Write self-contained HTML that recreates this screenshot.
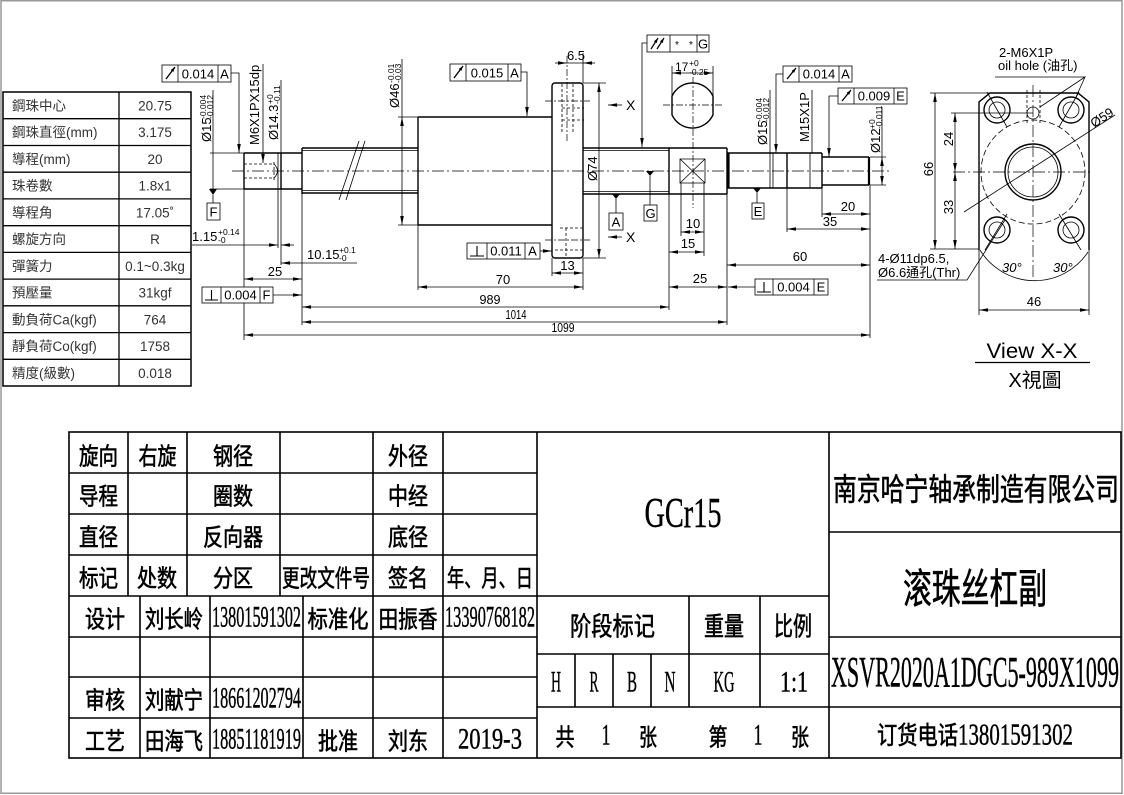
<!DOCTYPE html>
<html><head><meta charset="utf-8"><style>
html,body{margin:0;padding:0;background:#fff;}
svg{display:block;}
.t{stroke:#000;stroke-width:.8;fill:none}
.k{stroke:#000;stroke-width:1.4;fill:none}
.c{stroke:#000;stroke-width:.7;stroke-dasharray:12 3 2 3;fill:none}
.c2{stroke:#000;stroke-width:.7;stroke-dasharray:7 2 2 2;fill:none}
.d{stroke:#000;stroke-width:.8;stroke-dasharray:3 2;fill:none}
.f{font-family:"Liberation Sans","Noto Sans CJK TC",sans-serif;font-size:13px;fill:#000}
.sm{font-size:8.5px}
.lt{font-family:"Liberation Sans","Noto Sans CJK TC",sans-serif;font-size:13.5px;fill:#333}
.cj{font-family:"Noto Sans CJK SC",sans-serif;fill:#000;font-weight:400;stroke:#000;stroke-width:.6}
.nm{font-family:"Liberation Serif",serif;fill:#000;stroke:#000;stroke-width:.45}
</style></head><body>
<svg width="1124" height="795" viewBox="0 0 1124 795" xmlns="http://www.w3.org/2000/svg">
<defs>
<marker id="a" viewBox="0 0 10 4" refX="10" refY="2" markerWidth="9" markerHeight="3.6" markerUnits="userSpaceOnUse" orient="auto-start-reverse"><path d="M0,0L10,2L0,4z" fill="#000"/></marker>
<marker id="b" viewBox="0 0 6 4" refX="6" refY="2" markerWidth="5" markerHeight="3.4" markerUnits="userSpaceOnUse" orient="auto"><path d="M0,0L6,2L0,4z" fill="#000"/></marker>
</defs>

<rect x="1" y="0.75" width="1121" height="792.5" fill="none" stroke="#999" stroke-width="1.5"/>

<!-- LEFT TABLE -->
<rect x="3" y="92" width="188" height="294" fill="none" stroke="#000" stroke-width="1.5"/>
<path stroke="#000" stroke-width="1.3" fill="none" d="M119,92V386M3,118.7H191M3,145.5H191M3,172.2H191M3,198.9H191M3,225.7H191M3,252.4H191M3,279.1H191M3,305.8H191M3,332.6H191M3,359.3H191"/>
<g class="lt">
<text x="12" y="110.5">鋼珠中心</text>
<text x="12" y="137.2">鋼珠直徑(mm)</text>
<text x="12" y="164">導程(mm)</text>
<text x="12" y="190.7">珠卷數</text>
<text x="12" y="217.4">導程角</text>
<text x="12" y="244.2">螺旋方向</text>
<text x="12" y="270.9">彈簧力</text>
<text x="12" y="297.6">預壓量</text>
<text x="12" y="324.3">動負荷Ca(kgf)</text>
<text x="12" y="351.1">靜負荷Co(kgf)</text>
<text x="12" y="377.8">精度(級數)</text>
</g>
<g class="lt" text-anchor="middle">
<text x="155" y="110.5">20.75</text>
<text x="155" y="137.2">3.175</text>
<text x="155" y="164">20</text>
<text x="155" y="190.7">1.8x1</text>
<text x="155" y="217.4">17.05˚</text>
<text x="155" y="244.2">R</text>
<text x="155" y="270.9">0.1~0.3kg</text>
<text x="155" y="297.6">31kgf</text>
<text x="155" y="324.3">764</text>
<text x="155" y="351.1">1758</text>
<text x="155" y="377.8">0.018</text>
</g>

<!-- MAIN SHAFT -->
<line x1="232" y1="171" x2="890" y2="171" class="c"/>
<path class="k" d="M244,153V189M244,153H302M244,189H302M281,153V189M302,148V194M302,148H418M302,193H418"/>
<path class="t" d="M278,153V189M302,150.5H418M302,190.5H418M210,153H244M210,189H244"/>
<path class="d" d="M244,164H274M244,178H274M274,162V180"/>
<path class="t" d="M274,164Q281,171 274,178"/>
<path class="t" d="M359,141L339,200M365,141L346,200"/>

<!-- nut -->
<path class="k" d="M418,117V225M418,117H552M418,225H552"/>
<rect x="552" y="83" width="31" height="175" rx="3" class="k"/>
<path class="d" d="M562,84V132M573,84V132M562,108H584M562,120H584M560,228H583M555,250H583M566,228V257"/>
<path class="c2" d="M567,56V142M545,101H590M545,240H590"/>

<!-- right body -->
<path class="k" d="M583,148H727M583,194H727M669,148V194M727,148V194M727,153H822M727,188H822M787,153V188M822,153V188M822,157H869M822,185H869"/>
<path class="t" d="M583,150.5H669M583,191.5H669M770,153V188M773,153V188M810,153V188"/>
<path stroke="#000" stroke-width="2.2" fill="none" d="M869,157V185M728.5,153V188"/>
<path class="t" d="M680,159H705V183H680ZM680,159L705,183M705,159L680,183"/>

<!-- section circle 17 -->
<path class="k" d="M672,96.2A22.5,22.5 0 0 1 713,96.2V114.8A22.5,22.5 0 0 1 672,114.8Z"/>
<path class="c2" d="M693,77V208M663,105H723"/>
<path class="t" d="M672,66V98M713,66V98"/>
<line class="t" x1="672" y1="73" x2="713" y2="73" marker-start="url(#a)" marker-end="url(#a)"/>
<text class="f" x="675" y="71" style="font-size:12px">17</text>
<text class="f sm" x="689" y="66">+0</text>
<text class="f sm" x="689" y="75">-0.25</text>

<!-- Ø46 -->
<path class="t" d="M398,117H418M398,225H418M402,59V117"/>
<line class="t" x1="402" y1="117" x2="402" y2="225" marker-start="url(#a)" marker-end="url(#a)"/>
<g transform="translate(399,108) rotate(-90)"><text class="f">Ø46</text><text class="f sm" x="25" y="-5">-0.01</text><text class="f sm" x="25" y="2">-0.03</text></g>

<!-- left Ø15 + datum F -->
<line class="t" x1="213" y1="90" x2="213" y2="189"/>
<polygon points="209,189 217,189 213,195" fill="#000"/>
<path class="t" d="M213,195V203"/>
<rect class="t" x="207" y="203" width="13" height="17"/>
<text class="f" x="213.5" y="216.5" text-anchor="middle">F</text>
<g transform="translate(211,142) rotate(-90)"><text class="f">Ø15</text><text class="f sm" x="23" y="-5">-0.004</text><text class="f sm" x="23" y="2">-0.012</text></g>

<!-- F1 -->
<rect class="t" x="162" y="65" width="69" height="17"/><path class="t" d="M178,65V82M218,65V82"/>
<line x1="166" y1="79" x2="175" y2="67" stroke="#000" stroke-width="1.3" marker-end="url(#b)"/>
<text class="f" x="198" y="78.5" text-anchor="middle">0.014</text><text class="f" x="224.5" y="78.5" text-anchor="middle">A</text>
<path class="t" d="M231,73H239V153" marker-end="url(#a)"/>

<!-- M6 -->
<g transform="translate(259,145) rotate(-90)"><text class="f">M6X1PX15dp</text></g>
<line class="t" x1="263" y1="64" x2="263" y2="163" marker-end="url(#a)"/>

<!-- Ø14.3 -->
<g transform="translate(278,140) rotate(-90)"><text class="f">Ø14.3</text><text class="f sm" x="36" y="-5">+0</text><text class="f sm" x="36" y="2">-0.11</text></g>
<path class="t" d="M281,80V265M278,189V248"/>

<!-- 1.15 -->
<line class="t" x1="192" y1="245" x2="278" y2="245" marker-end="url(#a)"/>
<line class="t" x1="294" y1="245" x2="281" y2="245" marker-end="url(#a)"/>
<text class="f" x="192" y="241">1.15</text><text class="f sm" x="218" y="235">+0.14</text><text class="f sm" x="218" y="243">-0</text>

<!-- 10.15 -->
<path class="t" d="M281,263H357" marker-start="url(#a)"/>
<text class="f" x="307" y="259">10.15</text><text class="f sm" x="339" y="253">+0.1</text><text class="f sm" x="339" y="261">-0</text>

<!-- 25 left -->
<line class="t" x1="244" y1="279" x2="302" y2="279" marker-start="url(#a)" marker-end="url(#a)"/>
<text class="f" x="275" y="276" text-anchor="middle">25</text>

<!-- F6 -->
<rect class="t" x="202" y="287" width="71" height="16" fill="#fff"/><path class="t" d="M221,287V303M260,287V303"/>
<path stroke="#000" stroke-width="1.1" fill="none" d="M211.5,290V300M205,300H218"/>
<text class="f" x="240.5" y="299.5" text-anchor="middle">0.004</text><text class="f" x="266.5" y="299.5" text-anchor="middle">F</text>
<line class="t" x1="273" y1="295" x2="302" y2="295" marker-end="url(#a)"/>

<!-- extension lines -->
<path class="t" d="M244,189V287M244,303V340M302,194V325M418,225V290M583,258V290M669,194V310M727,194V325M870,185V338M787,188V232M822,185V217M552,258V276"/>

<!-- bottom dims -->
<line class="t" x1="418" y1="287" x2="583" y2="287" marker-start="url(#a)" marker-end="url(#a)"/>
<text class="f" x="503" y="284" text-anchor="middle">70</text>
<line class="t" x1="302" y1="307" x2="669" y2="307" marker-start="url(#a)" marker-end="url(#a)"/>
<text class="f" x="490" y="304" text-anchor="middle" textLength="21" lengthAdjust="spacingAndGlyphs">989</text>
<line class="t" x1="302" y1="322" x2="727" y2="322" marker-start="url(#a)" marker-end="url(#a)"/>
<text class="f" x="516" y="319" text-anchor="middle" textLength="21" lengthAdjust="spacingAndGlyphs">1014</text>
<line class="t" x1="244" y1="335" x2="870" y2="335" marker-start="url(#a)" marker-end="url(#a)"/>
<text class="f" x="563" y="332" text-anchor="middle" textLength="23" lengthAdjust="spacingAndGlyphs">1099</text>
<line class="t" x1="552" y1="273" x2="583" y2="273" marker-start="url(#a)" marker-end="url(#a)"/>
<text class="f" x="567.5" y="270" text-anchor="middle">13</text>

<!-- F2 -->
<rect class="t" x="450" y="64" width="71" height="17"/><path class="t" d="M466,64V81M508,64V81"/>
<line x1="454" y1="78" x2="463" y2="66" stroke="#000" stroke-width="1.3" marker-end="url(#b)"/>
<text class="f" x="487" y="77.5" text-anchor="middle">0.015</text><text class="f" x="514.5" y="77.5" text-anchor="middle">A</text>
<path class="t" d="M521,72H527V116" marker-end="url(#a)"/>

<!-- F7 -->
<rect class="t" x="467" y="243" width="73" height="16"/><path class="t" d="M487,243V259M525,243V259"/>
<path stroke="#000" stroke-width="1.1" fill="none" d="M477,246V256M470,256H484"/>
<text class="f" x="506" y="255.5" text-anchor="middle">0.011</text><text class="f" x="532.5" y="255.5" text-anchor="middle">A</text>
<line class="t" x1="540" y1="251" x2="552" y2="251" marker-end="url(#a)"/>

<!-- 6.5 -->
<path class="t" d="M583,53V83M567,63H583"/>
<line class="t" x1="555" y1="63" x2="567" y2="63" marker-end="url(#a)"/>
<line class="t" x1="595" y1="63" x2="583" y2="63" marker-end="url(#a)"/>
<text class="f" x="576" y="60" text-anchor="middle">6.5</text>

<!-- Ø74 -->
<path class="t" d="M583,83H606M583,258H606"/>
<line class="t" x1="599" y1="83" x2="599" y2="258" marker-start="url(#a)" marker-end="url(#a)"/>
<g transform="translate(597,181) rotate(-90)"><text class="f">Ø74</text></g>

<!-- X arrows -->
<line class="t" x1="622" y1="105" x2="608" y2="105" marker-end="url(#a)"/>
<text class="f" x="626" y="110" style="font-size:14px">X</text>
<line class="t" x1="622" y1="237" x2="608" y2="237" marker-end="url(#a)"/>
<text class="f" x="626" y="242" style="font-size:14px">X</text>

<!-- F3 -->
<rect class="t" x="647" y="35" width="62" height="17"/><path class="t" d="M670,35V52M697,35V52"/>
<line x1="651" y1="49" x2="658" y2="38" stroke="#000" stroke-width="1.2" marker-end="url(#b)"/>
<line x1="657" y1="49" x2="664" y2="38" stroke="#000" stroke-width="1.2" marker-end="url(#b)"/>
<text class="f" x="677" y="48" text-anchor="middle" style="font-size:10px">*</text>
<text class="f" x="691" y="48" text-anchor="middle" style="font-size:10px">*</text>
<text class="f" x="703" y="48.5" text-anchor="middle">G</text>
<path class="t" d="M647,43H642V147" marker-end="url(#a)"/>

<!-- datum A, G -->
<polygon points="612,194 620,194 616,199" fill="#000"/>
<path class="t" d="M616,199V213"/>
<rect class="t" x="609" y="213" width="14" height="17"/>
<text class="f" x="616" y="226.5" text-anchor="middle">A</text>
<polygon points="646,171 654,171 650,176" fill="#000"/>
<path class="t" d="M650,176V205"/>
<rect class="t" x="644" y="205" width="13" height="16"/>
<text class="f" x="650.5" y="218" text-anchor="middle">G</text>

<!-- 10, 15 -->
<path class="t" d="M681,183V236M704,183V256"/>
<line class="t" x1="681" y1="232" x2="704" y2="232" marker-start="url(#a)" marker-end="url(#a)"/>
<text class="f" x="693" y="228" text-anchor="middle">10</text>
<line class="t" x1="669" y1="252" x2="704" y2="252" marker-start="url(#a)" marker-end="url(#a)"/>
<text class="f" x="688" y="248" text-anchor="middle">15</text>

<!-- F8 -->
<rect class="t" x="755" y="279" width="73" height="16"/><path class="t" d="M773,279V295M814,279V295"/>
<path stroke="#000" stroke-width="1.1" fill="none" d="M764,282V292M757,292H771"/>
<text class="f" x="793.5" y="291.5" text-anchor="middle">0.004</text><text class="f" x="821" y="291.5" text-anchor="middle">E</text>
<line class="t" x1="755" y1="287" x2="728" y2="287" marker-end="url(#a)"/>

<!-- 25 right, 60, 20, 35 -->
<line class="t" x1="669" y1="287" x2="727" y2="287" marker-start="url(#a)" marker-end="url(#a)"/>
<text class="f" x="700" y="283" text-anchor="middle">25</text>
<line class="t" x1="727" y1="265" x2="870" y2="265" marker-start="url(#a)" marker-end="url(#a)"/>
<text class="f" x="800" y="261" text-anchor="middle">60</text>
<line class="t" x1="822" y1="214" x2="870" y2="214" marker-start="url(#a)" marker-end="url(#a)"/>
<text class="f" x="848" y="211" text-anchor="middle">20</text>
<line class="t" x1="787" y1="229" x2="870" y2="229" marker-start="url(#a)" marker-end="url(#a)"/>
<text class="f" x="830" y="226" text-anchor="middle">35</text>

<!-- datum E -->
<polygon points="753,188 761,188 757,193" fill="#000"/>
<path class="t" d="M757,193V203"/>
<rect class="t" x="752" y="203" width="12" height="16"/>
<text class="f" x="758" y="216" text-anchor="middle">E</text>

<!-- right Ø15 -->
<line class="t" x1="770" y1="90" x2="770" y2="153"/>
<g transform="translate(767,145) rotate(-90)"><text class="f">Ø15</text><text class="f sm" x="23" y="-5">-0.004</text><text class="f sm" x="23" y="2">-0.012</text></g>

<!-- F4 -->
<rect class="t" x="783" y="66" width="69" height="16"/><path class="t" d="M799,66V82M839,66V82"/>
<line x1="787" y1="79" x2="796" y2="68" stroke="#000" stroke-width="1.3" marker-end="url(#b)"/>
<text class="f" x="819" y="78.5" text-anchor="middle">0.014</text><text class="f" x="845.5" y="78.5" text-anchor="middle">A</text>
<path class="t" d="M783,74H776V153" marker-end="url(#a)"/>

<!-- M15 -->
<g transform="translate(809,142) rotate(-90)"><text class="f">M15X1P</text></g>
<line class="t" x1="812" y1="90" x2="812" y2="153"/>

<!-- F5 -->
<rect class="t" x="838" y="88" width="69" height="16"/><path class="t" d="M854,88V104M894,88V104"/>
<line x1="842" y1="101" x2="851" y2="90" stroke="#000" stroke-width="1.3" marker-end="url(#b)"/>
<text class="f" x="874" y="100.5" text-anchor="middle">0.009</text><text class="f" x="900.5" y="100.5" text-anchor="middle">E</text>
<path class="t" d="M838,96H829V157" marker-end="url(#a)"/>

<!-- Ø12 -->
<path class="t" d="M870,157H886M870,185H886M882,107V157"/>
<line class="t" x1="882" y1="157" x2="882" y2="185" marker-start="url(#a)" marker-end="url(#a)"/>
<g transform="translate(880,153) rotate(-90)"><text class="f">Ø12</text><text class="f sm" x="24" y="-5">+0</text><text class="f sm" x="24" y="2">-0.011</text></g>

<!-- VIEW X-X -->
<path class="k" d="M979,250V102L990,93H1078L1089,102V250"/>
<path class="t" d="M980,250A64,64 0 0 0 1088,252"/>
<path class="t" d="M979,250V315M1089,250V315"/>
<line class="t" x1="979" y1="310" x2="1089" y2="310" marker-start="url(#a)" marker-end="url(#a)"/>
<text class="f" x="1034" y="306" text-anchor="middle">46</text>
<g class="k">
<circle cx="997" cy="110" r="13"/><circle cx="1071" cy="110" r="13"/>
<circle cx="997" cy="230" r="13"/><circle cx="1071" cy="230" r="13"/>
<circle cx="1033" cy="172" r="28"/>
</g>
<g class="t">
<circle cx="997" cy="110" r="8"/><circle cx="1071" cy="110" r="8"/>
<circle cx="997" cy="230" r="8"/><circle cx="1071" cy="230" r="8"/>
<circle cx="1033" cy="172" r="25"/>
<circle cx="1033" cy="113" r="6"/>
</g>
<circle cx="1033" cy="172" r="52" fill="none" stroke="#000" stroke-width=".8" stroke-dasharray="6 3"/>
<path class="d" d="M1027,90V125M1040,90V125"/>
<path class="c" d="M953,172H1093M1033,85V280"/>
<path class="t" d="M1007,127L987,92M1059,127L1079,92M1007,214L985,250M1059,214L1081,250M964,212L1115,115"/>
<text class="f" transform="translate(1094,128) rotate(-33)">Ø59</text>
<path class="t" d="M930,93H990M951,113H1033M930,249H979"/>
<line class="t" x1="935" y1="93" x2="935" y2="249" marker-start="url(#a)" marker-end="url(#a)"/>
<line class="t" x1="955" y1="113" x2="955" y2="172" marker-start="url(#a)" marker-end="url(#a)"/>
<line class="t" x1="955" y1="172" x2="955" y2="249" marker-start="url(#a)" marker-end="url(#a)"/>
<text class="f" text-anchor="middle" transform="translate(933,169) rotate(-90)">66</text>
<text class="f" text-anchor="middle" transform="translate(953,139) rotate(-90)">24</text>
<text class="f" text-anchor="middle" transform="translate(953,207) rotate(-90)">33</text>
<text class="f" x="999" y="57">2-M6X1P</text>
<text class="f" x="998" y="70">oil hole (油孔)</text>
<path class="t" d="M995,77H1085L1040,107M1085,77L1076,97"/>
<text class="f" x="878" y="263">4-Ø11dp6.5,</text>
<text class="f" x="878" y="277">Ø6.6通孔(Thr)</text>
<path class="t" d="M877,280H967L1005,220"/>
<text class="f" x="1002" y="272" font-style="italic">30°</text>
<text class="f" x="1053" y="272" font-style="italic">30°</text>
<text class="f" x="1032" y="358" text-anchor="middle" style="font-size:21px" textLength="91" lengthAdjust="spacingAndGlyphs">View X-X</text>
<line x1="975" y1="362.5" x2="1090" y2="362.5" stroke="#000" stroke-width="1.2"/>
<text class="f" x="1035" y="387" text-anchor="middle" style="font-size:20px">X視圖</text>

<!-- TITLE BLOCK -->
<g stroke="#000" stroke-width="1.6" fill="none">
<rect x="69" y="432" width="1052" height="326"/>
<path d="M69,473H537M69,514H537M69,555H537M69,596H829M69,637H537M69,677H537M69,718H537M128,432V596M187,432V596M280,432V596M373,432V758M443,432V758M537,432V758M140,596V758M210,596V758M303,596V758M537,654H829M537,707H829M575,654V707M613,654V707M651,654V707M689,596V707M760,596V707M829,432V758M829,532H1121M829,637H1121M829,707H1121"/>
</g>
<g class="cj" text-anchor="middle" dominant-baseline="central" style="font-size:24px">
<text x="98.5" y="454" textLength="39" lengthAdjust="spacingAndGlyphs">旋向</text>
<text x="157.5" y="454" textLength="38" lengthAdjust="spacingAndGlyphs">右旋</text>
<text x="233" y="454" textLength="40" lengthAdjust="spacingAndGlyphs">钢径</text>
<text x="408" y="454" textLength="40" lengthAdjust="spacingAndGlyphs">外径</text>
<text x="98.5" y="494" textLength="39" lengthAdjust="spacingAndGlyphs">导程</text>
<text x="233" y="494" textLength="40" lengthAdjust="spacingAndGlyphs">圈数</text>
<text x="408" y="494" textLength="40" lengthAdjust="spacingAndGlyphs">中经</text>
<text x="98.5" y="535" textLength="39" lengthAdjust="spacingAndGlyphs">直径</text>
<text x="233" y="535" textLength="60" lengthAdjust="spacingAndGlyphs">反向器</text>
<text x="408" y="535" textLength="40" lengthAdjust="spacingAndGlyphs">底径</text>
<text x="98.5" y="576" textLength="39" lengthAdjust="spacingAndGlyphs">标记</text>
<text x="157" y="576" textLength="40" lengthAdjust="spacingAndGlyphs">处数</text>
<text x="233" y="576" textLength="40" lengthAdjust="spacingAndGlyphs">分区</text>
<text x="326" y="576" textLength="88" lengthAdjust="spacingAndGlyphs">更改文件号</text>
<text x="408" y="576" textLength="40" lengthAdjust="spacingAndGlyphs">签名</text>
<text x="490" y="576" textLength="86" lengthAdjust="spacingAndGlyphs">年、月、日</text>
<text x="105" y="617" textLength="40" lengthAdjust="spacingAndGlyphs">设计</text>
<text x="174" y="617" textLength="58" lengthAdjust="spacingAndGlyphs">刘长岭</text>
<text x="338" y="617" textLength="61" lengthAdjust="spacingAndGlyphs">标准化</text>
<text x="408" y="617" textLength="59" lengthAdjust="spacingAndGlyphs">田振香</text>
<text x="105" y="698" textLength="40" lengthAdjust="spacingAndGlyphs">审核</text>
<text x="174" y="698" textLength="58" lengthAdjust="spacingAndGlyphs">刘献宁</text>
<text x="105" y="739" textLength="40" lengthAdjust="spacingAndGlyphs">工艺</text>
<text x="174" y="739" textLength="58" lengthAdjust="spacingAndGlyphs">田海飞</text>
<text x="338" y="739" textLength="40" lengthAdjust="spacingAndGlyphs">批准</text>
<text x="408" y="739" textLength="40" lengthAdjust="spacingAndGlyphs">刘东</text>
<text x="612.5" y="625" textLength="85" lengthAdjust="spacingAndGlyphs" style="font-size:26px">阶段标记</text>
<text x="724" y="625" textLength="40" lengthAdjust="spacingAndGlyphs" style="font-size:26px">重量</text>
<text x="793" y="625" textLength="38" lengthAdjust="spacingAndGlyphs" style="font-size:26px">比例</text>
<text x="565" y="735" textLength="19" lengthAdjust="spacingAndGlyphs">共</text>
<text x="648" y="735" textLength="18" lengthAdjust="spacingAndGlyphs">张</text>
<text x="718" y="735" textLength="19" lengthAdjust="spacingAndGlyphs">第</text>
<text x="800" y="735" textLength="18" lengthAdjust="spacingAndGlyphs">张</text>
<text x="976" y="487" textLength="286" lengthAdjust="spacingAndGlyphs" style="font-size:31px">南京哈宁轴承制造有限公司</text>
<text x="975" y="585" textLength="144" lengthAdjust="spacingAndGlyphs" style="font-size:41px">滚珠丝杠副</text>
<text x="917.5" y="734" textLength="81" lengthAdjust="spacingAndGlyphs" style="font-size:25px">订货电话</text>
</g>
<g class="nm" text-anchor="middle" dominant-baseline="central" style="font-size:30px">
<text x="256.5" y="617" textLength="89" lengthAdjust="spacingAndGlyphs">13801591302</text>
<text x="490" y="617" textLength="90" lengthAdjust="spacingAndGlyphs">13390768182</text>
<text x="256.5" y="698" textLength="89" lengthAdjust="spacingAndGlyphs">18661202794</text>
<text x="256.5" y="739" textLength="89" lengthAdjust="spacingAndGlyphs">18851181919</text>
<text x="490" y="739" textLength="64" lengthAdjust="spacingAndGlyphs">2019-3</text>
<text x="683" y="514" textLength="77" lengthAdjust="spacingAndGlyphs" style="font-size:42px">GCr15</text>
<text x="556" y="682" textLength="10" lengthAdjust="spacingAndGlyphs">H</text>
<text x="594" y="682" textLength="9" lengthAdjust="spacingAndGlyphs">R</text>
<text x="632" y="682" textLength="10" lengthAdjust="spacingAndGlyphs">B</text>
<text x="670" y="682" textLength="11" lengthAdjust="spacingAndGlyphs">N</text>
<text x="724" y="682" textLength="21" lengthAdjust="spacingAndGlyphs">KG</text>
<text x="794" y="682" textLength="28" lengthAdjust="spacingAndGlyphs">1:1</text>
<text x="606" y="735" textLength="9" lengthAdjust="spacingAndGlyphs">1</text>
<text x="758" y="735" textLength="9" lengthAdjust="spacingAndGlyphs">1</text>
<text x="975" y="673" textLength="288" lengthAdjust="spacingAndGlyphs" style="font-size:43px">XSVR2020A1DGC5-989X1099</text>
<text x="1015.5" y="734" textLength="115" lengthAdjust="spacingAndGlyphs" style="font-size:31px">13801591302</text>
</g>
</svg>
</body></html>
